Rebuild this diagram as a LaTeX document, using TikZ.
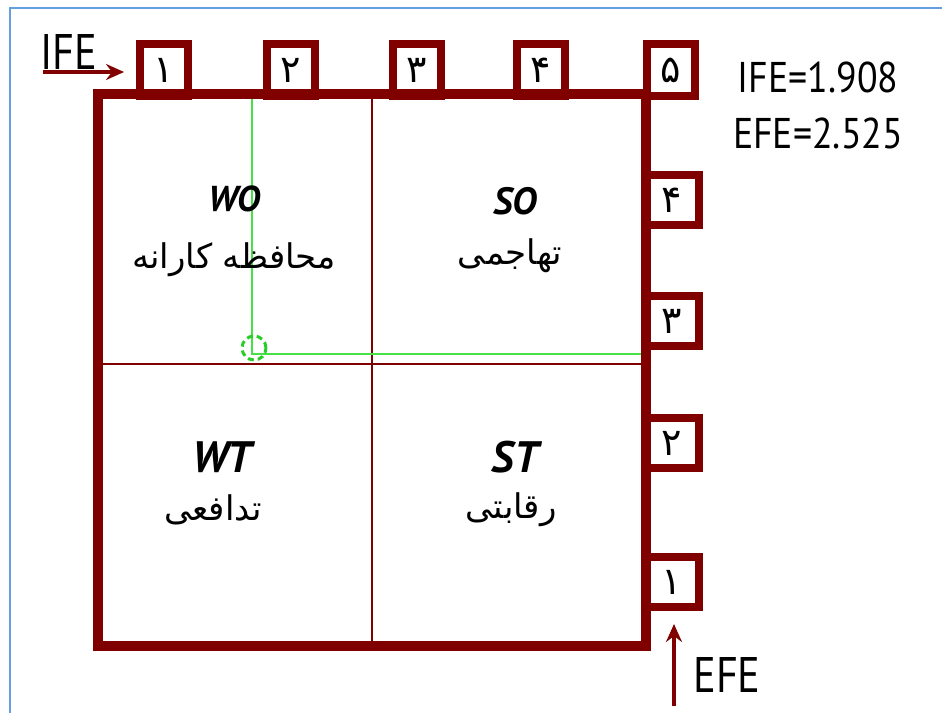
\documentclass[tikz,border=0pt]{standalone}
\usepackage{fontspec}
\usepackage{graphicx}
\setmainfont{PT Sans}
\newfontfamily\arabicfont[Script=Arabic]{DejaVu Sans}
\TeXXeTstate=1
\usetikzlibrary{arrows.meta}
\definecolor{mred}{RGB}{128,0,0}
\definecolor{frameblue}{RGB}{100,160,225}
\definecolor{glight}{RGB}{70,225,70}
\definecolor{gdash}{RGB}{40,205,40}
\begin{document}
\begin{tikzpicture}[x=1pt,y=-1pt,
  numbox/.style={draw=mred,line width=8pt,fill=white,inner sep=0pt,
    font=\fontsize{38}{38}\selectfont\arabicfont},
  topbox/.style={numbox,minimum width=48pt,minimum height=52pt},
  sidebox/.style={numbox,minimum width=54.5pt,minimum height=50pt},
  thinline/.style={draw=mred,line width=1.5pt},
  greenline/.style={draw=glight,line width=1.5pt},
  bigarrow/.style={draw=mred,line width=3.5pt,-{Stealth[length=18pt,width=16pt,inset=6pt]}},
  lbl/.style={font=\fontsize{#1}{#1}\selectfont, inner sep=0pt},
  quadtag/.style={font=\fontsize{#1}{#1}\selectfont\itshape, inner sep=0pt},
  persian/.style={font=\fontsize{34}{34}\selectfont\arabicfont, inner sep=0pt}]
\useasboundingbox (0,0) rectangle (942,713);
\fill[white] (0,0) rectangle (942,713);
% blue frame (top and left edges)
\draw[frameblue,line width=2pt] (10,713) -- (10,8) -- (942,8);

% quadrant dividers
\coordinate (midT) at (372,95.5);
\coordinate (midB) at (372,644.5);
\coordinate (midL) at (99.5,364);
\coordinate (midR) at (644.5,364);
\draw[thinline] (midT) -- (midB);
\draw[thinline] (midL) -- (midR);

% green position lines
\coordinate (gTop) at (252,99);
\coordinate (gCorner) at (252,354);
\coordinate (gRight) at (641,354);
\draw[greenline] (gTop) -- (gCorner) -- (gRight);
\node[draw=gdash,line width=3pt,dashed,dash pattern=on 6pt off 4pt,circle,minimum size=24pt,inner sep=0pt] (gcirc) at (254,348) {};

% main square
\node[draw=mred,line width=6.5pt,minimum width=545pt,minimum height=549pt,inner sep=0pt] (sq) at (372,370) {};

% top boxes
\node[topbox] (t1) at (164,70) {۱};
\node[topbox] (t2) at (291,70) {۲};
\node[topbox] (t3) at (417,70) {۳};
\node[topbox] (t4) at (541,70) {۴};
\node[topbox] (t5) at (671,70) {۵};

% right boxes
\node[sidebox] (r4) at (672,200) {۴};
\node[sidebox] (r3) at (672,321) {۳};
\node[sidebox] (r2) at (672,443) {۲};
\node[sidebox] (r1) at (672,582) {۱};

% redraw square outline on top so it merges with boxes
\draw[mred,line width=6.5pt] (sq.north west) rectangle (sq.south east);

% quadrant labels
\node[quadtag=36] (wo) at (234,199) {\bfseries WO};
\node[persian] (woP) at (234,260) {\beginR محافظه کارانه\endR};
\node[quadtag=38] (so) at (515,201) {\bfseries SO};
\node[persian] (soP) at (510,256) {\beginR تهاجمی\endR};
\node[quadtag=44] (wt) at (222,457) {\bfseries WT};
\node[persian] (wtP) at (213,510) {\beginR تدافعی\endR};
\node[quadtag=44] (st) at (515,457) {\bfseries ST};
\node[persian] (stP) at (511,510) {\beginR رقابتی\endR};

% IFE axis label and arrow
\node[lbl=50,anchor=south west] (ife) at (40,70) {\scalebox{0.85}[1]{IFE}};
\coordinate (ifeA) at (43,72);
\coordinate (ifeB) at (124,72);
\draw[bigarrow] (ifeA) -- (ifeB);

% EFE axis label and arrow
\node[lbl=50] (efe) at (727,675) {\scalebox{0.85}[1]{EFE}};
\coordinate (efeA) at (674,706);
\coordinate (efeB) at (674,624);
\draw[bigarrow] (efeA) -- (efeB);

% scores
\node[lbl=43] (ifev) at (818,77) {\scalebox{0.88}[1]{IFE=1.908}};
\node[lbl=43] (efev) at (818,133) {\scalebox{0.88}[1]{EFE=2.525}};
\end{tikzpicture}
\end{document}
